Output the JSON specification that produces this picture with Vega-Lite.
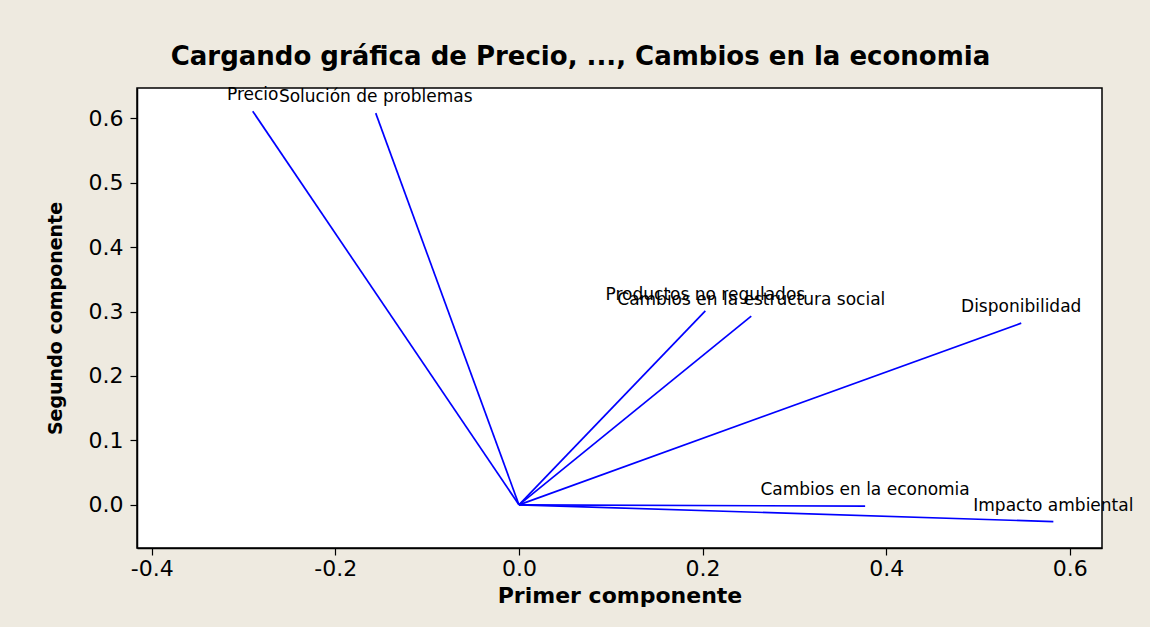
{
  "$schema": "https://vega.github.io/schema/vega-lite/v6.json",
  "autosize": {"type": "none"},
  "width": 965,
  "height": 460,
  "padding": {"left": 137, "top": 88, "right": 48, "bottom": 79},
  "background": "#EEEAE0",
  "title": {
    "text": "Cargando gráfica de Precio, ..., Cambios en la economia",
    "font": "DejaVu Sans",
    "fontSize": 26,
    "fontWeight": "bold",
    "color": "#000000",
    "anchor": "middle",
    "dx": -39,
    "offset": 16
  },
  "config": {
    "view": {"fill": "#FFFFFF", "stroke": "#000000", "strokeWidth": 1.5},
    "axis": {
      "grid": false,
      "domainColor": "#000000",
      "domainWidth": 1.5,
      "tickColor": "#000000",
      "tickSize": 7,
      "tickWidth": 1.2,
      "labelFont": "DejaVu Sans",
      "labelFontSize": 22,
      "labelColor": "#000000",
      "titleFont": "DejaVu Sans",
      "titleFontWeight": "bold",
      "titleColor": "#000000"
    }
  },
  "data": {
    "values": [
      {"variable": "Precio", "x": -0.290, "y": 0.611},
      {"variable": "Solución de problemas", "x": -0.156, "y": 0.608},
      {"variable": "Productos no regulados", "x": 0.203, "y": 0.301},
      {"variable": "Cambios en la estructura social", "x": 0.253, "y": 0.293},
      {"variable": "Disponibilidad", "x": 0.547, "y": 0.282},
      {"variable": "Cambios en la economia", "x": 0.377, "y": -0.002},
      {"variable": "Impacto ambiental", "x": 0.582, "y": -0.026}
    ]
  },
  "encoding": {
    "x": {
      "field": "x",
      "type": "quantitative",
      "title": "Primer componente",
      "scale": {"domain": [-0.416, 0.635], "nice": false, "zero": false},
      "axis": {
        "values": [-0.4, -0.2, 0, 0.2, 0.4, 0.6],
        "labelExpr": "replace(format(datum.value, '.1f'), '−', '-')",
        "labelPadding": 3,
        "titleFontSize": 22,
        "titlePadding": 6
      }
    },
    "y": {
      "field": "y",
      "type": "quantitative",
      "title": "Segundo componente",
      "scale": {"domain": [-0.067, 0.647], "nice": false, "zero": false},
      "axis": {
        "values": [0, 0.1, 0.2, 0.3, 0.4, 0.5, 0.6],
        "labelExpr": "replace(format(datum.value, '.1f'), '−', '-')",
        "labelPadding": 7,
        "titleFontSize": 19,
        "titlePadding": 23
      }
    }
  },
  "layer": [
    {
      "mark": {"type": "rule", "color": "#0000FF", "strokeWidth": 1.7},
      "encoding": {
        "x2": {"datum": 0},
        "y2": {"datum": 0}
      }
    },
    {
      "mark": {"type": "text", "font": "DejaVu Sans", "fontSize": 17, "color": "#000000", "align": "center", "baseline": "alphabetic", "dy": -11, "clip": false},
      "encoding": {
        "text": {"field": "variable"}
      }
    }
  ]
}
